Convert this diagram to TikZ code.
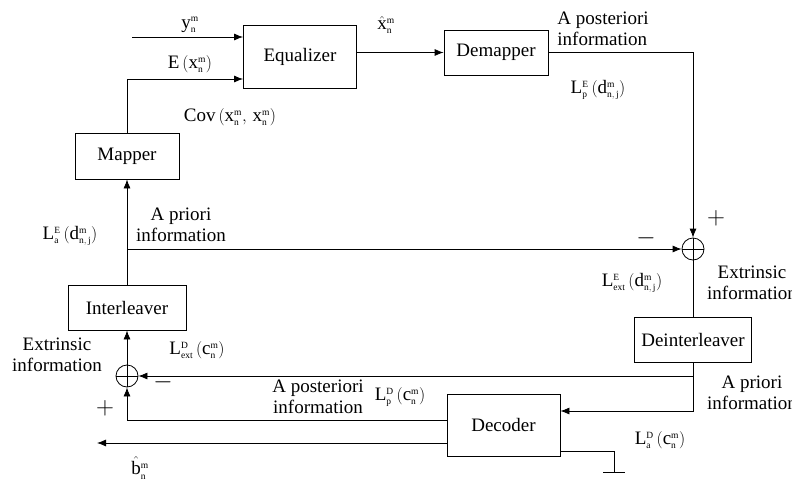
\documentclass[tikz,border=0pt]{standalone}
\usepackage{fontspec}
\setmainfont{Liberation Serif}
\usetikzlibrary{arrows.meta}

\newcommand{\sm}[1]{{\scriptscriptstyle\mathrm{#1}}}

\begin{document}
\begin{tikzpicture}[x=1pt,y=-1pt,line width=0.8pt,
    font=\fontsize{19}{21}\selectfont,
    >={Latex[length=9pt,width=7pt]},
    block/.style={draw,minimum height=45pt,inner sep=2pt},
    sum/.style={draw,circle,minimum size=22pt,inner sep=0pt,
      path picture={\draw (path picture bounding box.north) -- (path picture bounding box.south)
        (path picture bounding box.west) -- (path picture bounding box.east);}},
    lbl/.style={align=center,inner sep=0pt},
    sign/.style={inner sep=0pt,font=\fontsize{27}{27}\selectfont}]
    \useasboundingbox (0,0) rectangle (792,482);

    % blocks
    \node[block,minimum width=113pt,minimum height=63pt] (eq) at (300,56.5) {Equalizer};
    \node[block,minimum width=104pt] (dem) at (496,52.5) {Demapper};
    \node[block,minimum width=104pt,minimum height=46pt] (map) at (127,156) {Mapper};
    \node[block,minimum width=118pt] (intl) at (127,307.5) {Interleaver};
    \node[block,minimum width=117pt] (deint) at (693,339.5) {Deinterleaver};
    \node[block,minimum width=113pt,minimum height=62pt] (dec) at (503.5,425) {Decoder};
    \node[sum] (sumr) at (693,249) {};
    \node[sum] (suml) at (127,376) {};
    \coordinate (yin) at (132,37);
    \coordinate (bout) at (97,443);
    \coordinate (gnd) at (614,472);

    % connectors
    \draw[->] (yin) -- (eq.west |- yin);
    \draw[->] (map.north) |- ([yshift=-22.5pt]eq.west);
    \draw[->] (eq.east |- dem.west) -- (dem.west);
    \draw[->] (dem.east) -| (sumr.north);
    \draw[->] (intl.north) -- (map.south);
    \draw[->] (intl.north |- sumr) -- (sumr.west);
    \draw (sumr.south) -- (deint.north);
    \draw[->] (deint.south) |- ([yshift=14pt]dec.east);
    \draw[->] (deint.south |- suml) -- (suml.east);
    \draw[->] ([yshift=5pt]dec.west) -| (suml.south);
    \draw[->] (suml.north) -- (intl.south);
    \draw[->] ([yshift=-18pt]dec.west) -- (bout);
    \draw ([yshift=-26pt]dec.east) -| (gnd);
    \draw ([xshift=-11pt]gnd) -- ([xshift=11pt]gnd);

    % labels
    \node[lbl] (ylbl) at (190,25) {$\mathrm{y}^\sm{m}_\sm{n}$};
    \node[lbl] (elbl) at (190,64) {$\mathrm{E}\,\Bigl(\mathrm{x}^\sm{m}_\sm{n}\Bigr)$};
    \node[lbl] (covlbl) at (230,117) {$\mathrm{Cov}\,\Bigl(\mathrm{x}^\sm{m}_\sm{n},\,\mathrm{x}^\sm{m}_\sm{n}\Bigr)$};
    \node[lbl] (xlbl) at (386,25) {$\hat{\mathrm{x}}^\sm{m}_\sm{n}$};
    \node[lbl,align=left,anchor=west] (postlbl) at (557,29) {A posteriori\\information};
    \node[lbl] (lpe) at (598,90) {$\mathrm{L}^\sm{E}_\sm{p}\,\Bigl(\mathrm{d}^\sm{m}_\sm{n,\,j}\Bigr)$};
    \node[sign] (plusr) at (716,218) {$+$};
    \node[sign] (minr) at (646,238) {$-$};
    \node[lbl] (lae) at (70,236) {$\mathrm{L}^\sm{E}_\sm{a}\,\Bigl(\mathrm{d}^\sm{m}_\sm{n,\,j}\Bigr)$};
    \node[lbl] (prilbl) at (181,225) {A priori\\information};
    \node[lbl] (lexte) at (632,283) {$\mathrm{L}^\sm{E}_\sm{ext}\,\Bigl(\mathrm{d}^\sm{m}_\sm{n,\,j}\Bigr)$};
    \node[lbl] (extr) at (752,283) {Extrinsic\\information};
    \node[lbl] (prir) at (752,393) {A priori\\information};
    \node[lbl] (lad) at (660,440) {$\mathrm{L}^\sm{D}_\sm{a}\,\Bigl(\mathrm{c}^\sm{m}_\sm{n}\Bigr)$};
    \node[lbl] (postl) at (318,397) {A posteriori\\information};
    \node[lbl] (lpd) at (400,397) {$\mathrm{L}^\sm{D}_\sm{p}\,\Bigl(\mathrm{c}^\sm{m}_\sm{n}\Bigr)$};
    \node[lbl] (extl) at (57,355) {Extrinsic\\information};
    \node[lbl] (lextd) at (197,350) {$\mathrm{L}^\sm{D}_\sm{ext}\,\Bigl(\mathrm{c}^\sm{m}_\sm{n}\Bigr)$};
    \node[sign] (minl) at (163,382) {$-$};
    \node[sign] (plusl) at (105,408) {$+$};
    \node[lbl] (blbl) at (140,468) {$\hat{\mathrm{b}}^\sm{m}_\sm{n}$};
\end{tikzpicture}
\end{document}
